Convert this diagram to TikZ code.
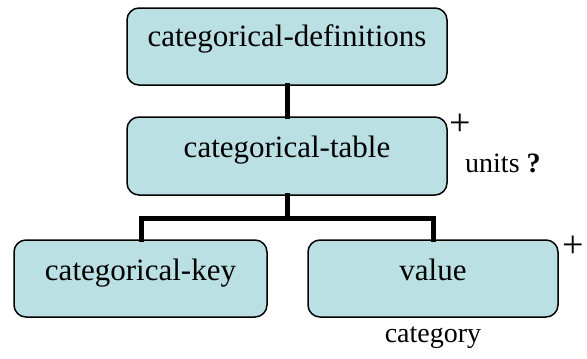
\documentclass[tikz,border=0pt]{standalone}
\usepackage{fontspec}
\setmainfont{Liberation Serif}
\definecolor{boxfill}{HTML}{BBE0E3}
\begin{document}
\begin{tikzpicture}[x=1pt,y=-1pt,
  box/.style={draw=black, line width=1.5pt, fill=boxfill, rounded corners=12pt, inner sep=0pt},
  lbl/.style={font=\fontsize{31}{36}\selectfont, inner sep=0pt},
  note/.style={font=\fontsize{28}{32}\selectfont, inner sep=0pt},
  plus/.style={font=\fontsize{38}{40}\selectfont, inner sep=0pt},
  conn/.style={line width=5pt, line cap=rect}]
\useasboundingbox (0,0) rectangle (587,359);
% boxes
\node[box, minimum width=320pt, minimum height=77pt] (defs) at (287,46.5) {};
\node[box, minimum width=320pt, minimum height=78pt] (table) at (287,156) {};
\node[box, minimum width=253pt, minimum height=77pt] (key) at (140.5,278.5) {};
\node[box, minimum width=250pt, minimum height=77pt] (value) at (433,278.5) {};
% texts
\node[lbl, anchor=base] (tdefs) at (287,46.5) {categorical-definitions};
\node[lbl, anchor=base] (ttable) at (287,157) {categorical-table};
\node[lbl, anchor=base] (tkey) at (140.5,280) {categorical-key};
\node[lbl, anchor=base] (tvalue) at (433,280) {value};
% annotations
\node[plus] (plus1) at (460,125) {+};
\node[note, anchor=base west] (units) at (465,172) {units \textbf{?}};
\node[plus] (plus2) at (573,247) {+};
\node[note, anchor=base] (cat) at (433,342) {category};
% connectors
\coordinate (j) at (287,218);
\draw[conn] (defs.south) -- (table.north);
\draw[conn] (table.south) -- (j);
\draw[conn] (key.north -| 141,0) |- (j) -| (value.north -| 433,0);
\end{tikzpicture}
\end{document}
